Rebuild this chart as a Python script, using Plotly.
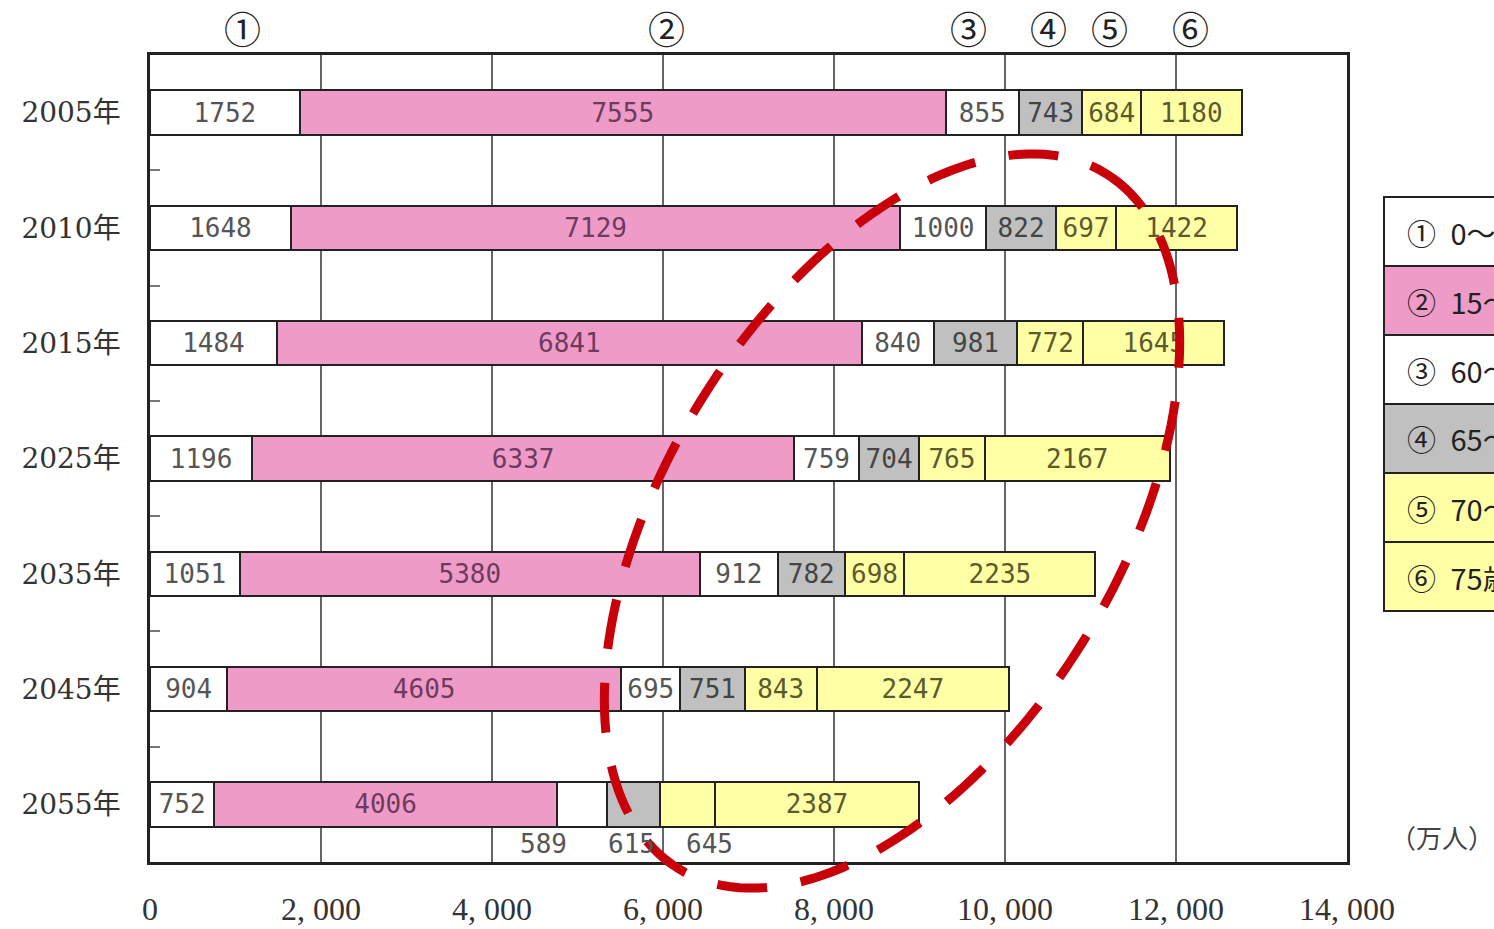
import numpy as np
import plotly.graph_objects as go

# ---------------- data ----------------
years = ["2005年", "2010年", "2015年", "2025年", "2035年", "2045年", "2055年"]
age_groups = ["0～14歳", "15～59歳", "60～64歳", "65～69歳", "70～74歳", "75歳以上"]
group_marks = ["①", "②", "③", "④", "⑤", "⑥"]

age_0_14 = [1752, 1648, 1484, 1196, 1051, 904, 752]
age_15_59 = [7555, 7129, 6841, 6337, 5380, 4605, 4006]
age_60_64 = [855, 1000, 840, 759, 912, 695, 589]
age_65_69 = [743, 822, 981, 704, 782, 751, 615]
age_70_74 = [684, 697, 772, 765, 698, 843, 645]
age_75_plus = [1180, 1422, 1645, 2167, 2235, 2247, 2387]

x_tick_vals = [0, 2000, 4000, 6000, 8000, 10000, 12000, 14000]
x_tick_text = ["0", "2, 000", "4, 000", "6, 000", "8, 000", "10, 000", "12, 000", "14, 000"]
unit_label = "（万人）"

series = [age_0_14, age_15_59, age_60_64, age_65_69, age_70_74, age_75_plus]

# ---------------- styles ----------------
W, H = 1494, 929
PL, PR, PT, PB = 150, 1347, 55, 862  # plot area in pixels
fills = ["#ffffff", "#ef9bc8", "#ffffff", "#c0c0c0", "#ffffa6", "#ffffa6"]
text_colors = ["#555555", "#6e3a5e", "#555555", "#444444", "#5c5a2c", "#5c5a2c"]
# labels of the last year drawn beneath the bar (group index -> x shift px)
below_shift = {2: -38, 3: -2, 4: 22}
last = len(years) - 1


def px_x(px):
    return (px - PL) / (PR - PL)


def px_y(py):
    return (PB - py) / (PB - PT)


fig = go.Figure()

for gi, (name, vals) in enumerate(zip(age_groups, series)):
    texts = []
    for yi, v in enumerate(vals):
        if yi == last and gi in below_shift:
            texts.append("")
        else:
            texts.append(str(v))
    fig.add_trace(go.Bar(
        y=years, x=vals, name=name, orientation="h",
        width=0.385,
        marker=dict(color=fills[gi], line=dict(color="#222222", width=2)),
        text=texts, textposition="inside", insidetextanchor="middle",
        constraintext="none", textangle=0,
        textfont=dict(family="DejaVu Sans Mono", size=26, color=text_colors[gi]),
        showlegend=False, hoverinfo="x+y",
    ))

# labels under the last bar, centred on their segments
cum = np.cumsum([s[last] for s in series])
starts = np.concatenate([[0], cum[:-1]])
annotations = []
for gi, shift in below_shift.items():
    v = series[gi][last]
    annotations.append(dict(
        x=starts[gi] + v / 2, y=years[last], xref="x", yref="y",
        xanchor="center", yanchor="middle",
        text=str(v), showarrow=False, xshift=shift, yshift=-40,
        font=dict(family="DejaVu Sans Mono", size=26, color="#555555"),
    ))

# circled numbers on top
mark_px = [242, 666, 968, 1048, 1109, 1190]
for m, xp in zip(group_marks, mark_px):
    annotations.append(dict(
        x=px_x(xp), y=px_y(28), xref="paper", yref="paper", text=m,
        xanchor="center", yanchor="middle",
        showarrow=False, font=dict(family="Noto Sans CJK JP", size=37, color="#222222"),
    ))

# unit label
annotations.append(dict(
    x=px_x(1442), y=px_y(836), xref="paper", yref="paper", text=unit_label,
    xanchor="center", yanchor="middle",
    showarrow=False, font=dict(family="Noto Sans CJK JP", size=26, color="#444444"),
))

shapes = []
# legend table on the right (partially cut off by the page edge)
lg_top, row_h, lg_left, lg_right = 197, 69, 1384, 1700
for gi, name in enumerate(age_groups):
    y0 = lg_top + gi * row_h
    shapes.append(dict(
        type="rect", xref="paper", yref="paper",
        x0=px_x(lg_left), x1=px_x(lg_right), y0=px_y(y0), y1=px_y(y0 + row_h),
        fillcolor=fills[gi], line=dict(color="#222222", width=2), layer="above",
    ))
    annotations.append(dict(
        x=px_x(1405), y=px_y(y0 + row_h / 2), xref="paper", yref="paper",
        xanchor="left", yanchor="middle",
        text=f"{group_marks[gi]}\u2002{name}", showarrow=False,
        font=dict(family="Noto Sans CJK JP", size=29, color="#222222"),
    ))

# red dashed ellipse overlay (pixel geometry converted to paper units)
cx, cy, a, b, phi = 892, 521, 408, 226, np.deg2rad(58.4)
u = np.array([np.cos(phi), -np.sin(phi)])
v_ = np.array([np.sin(phi), np.cos(phi)])
ts = np.linspace(0, 2 * np.pi, 181)
pts = [(cx + a * np.cos(t) * u[0] + b * np.sin(t) * v_[0],
        cy + a * np.cos(t) * u[1] + b * np.sin(t) * v_[1]) for t in ts]
path = "M " + " L ".join(f"{px_x(x):.5f},{px_y(y):.5f}" for x, y in pts) + " Z"
shapes.append(dict(
    type="path", xref="paper", yref="paper", path=path,
    line=dict(color="#c8000a", width=9, dash="50px,34px"), layer="above",
))

fig.update_layout(
    width=W, height=H,
    margin=dict(l=PL, r=W - PR, t=PT, b=H - PB, pad=0, autoexpand=False),
    barmode="stack", bargap=0.6,
    plot_bgcolor="#ffffff", paper_bgcolor="#ffffff",
    annotations=annotations, shapes=shapes,
    uniformtext=dict(minsize=26, mode="show"),
    xaxis=dict(
        range=[0, 14000], tickvals=x_tick_vals, ticktext=x_tick_text,
        showgrid=True, gridcolor="#666666", gridwidth=1.5, zeroline=False,
        showline=True, mirror=True, linecolor="#222222", linewidth=2.5,
        ticks="", ticklabelstandoff=17, automargin=False,
        tickfont=dict(family="Liberation Serif", size=32, color="#333333"),
    ),
    yaxis=dict(
        autorange="reversed", showgrid=False, zeroline=False,
        showline=True, mirror=True, linecolor="#222222", linewidth=2.5,
        ticks="inside", tickson="boundaries", ticklen=10, tickcolor="#777777", tickwidth=1.5,
        ticklabelstandoff=21, automargin=False,
        tickfont=dict(family="DejaVu Serif, Noto Sans CJK JP", size=28, color="#333333"),
    ),
)

fig.write_html("out.html", config={"displayModeBar": False},
               post_script="document.body.style.margin='0px';")
